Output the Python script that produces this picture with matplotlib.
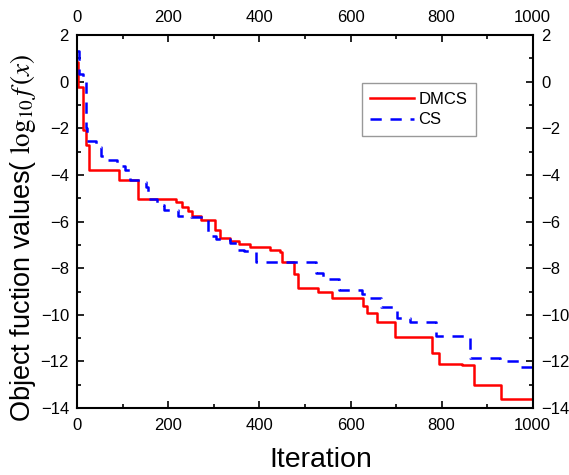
import matplotlib
matplotlib.use("Agg")
import matplotlib.pyplot as plt
from matplotlib.ticker import MultipleLocator

plt.rcParams['font.family'] = ['Liberation Sans', 'DejaVu Sans']
plt.rcParams['mathtext.fontset'] = 'stix'

# DMCS best value (step changes): iteration, log10 f(x)
dmcs_iter = [0, 2, 13, 19, 26, 92, 134, 216, 229, 242, 252, 272, 302, 314, 335, 355,
             380, 423, 445, 449, 475, 485, 529, 560, 627, 637, 658, 697, 779, 794,
             845, 871, 930, 1000]
dmcs_val = [0.85, -0.22, -2.08, -2.72, -3.79, -4.22, -5.04, -5.15, -5.37, -5.55, -5.78,
            -5.94, -6.37, -6.71, -6.82, -6.98, -7.08, -7.23, -7.3, -7.72, -8.23, -8.85,
            -9.02, -9.26, -9.63, -9.94, -10.3, -10.97, -11.63, -12.09, -12.16, -13.02,
            -13.63, -13.63]

# CS best value (step changes)
cs_iter = [0, 4, 12, 19, 22, 40, 52, 68, 88, 105, 115, 140, 150, 156, 175, 190, 221,
           250, 287, 305, 335, 351, 365, 393, 524, 540, 575, 626, 640, 667, 703, 730,
           788, 862, 928, 972, 1000]
cs_val = [1.3, 0.35, 0.0, -2.0, -2.55, -2.8, -3.2, -3.35, -3.6, -3.8, -4.2, -4.3, -4.5,
          -5.05, -5.3, -5.5, -5.75, -5.8, -6.6, -6.75, -6.9, -7.2, -7.27, -7.72, -8.2,
          -8.47, -8.93, -9.1, -9.27, -9.65, -10.15, -10.3, -10.9, -11.85, -12.0, -12.25,
          -12.25]

fig = plt.figure(figsize=(5.69, 4.75), dpi=100)
ax = fig.add_axes([0.1359, 0.141, 0.8003, 0.785])

ax.plot(dmcs_iter, dmcs_val, drawstyle='steps-post', color='#ff0000', lw=1.8, label='DMCS')
ax.plot(cs_iter, cs_val, drawstyle='steps-post', color='#0000ff', lw=1.8,
        dashes=(4.5, 3.5), label='CS')

ax.set_xlim(0, 1000)
ax.set_ylim(-14, 2)
ax.xaxis.set_major_locator(MultipleLocator(200))
ax.xaxis.set_minor_locator(MultipleLocator(100))
ax.yaxis.set_major_locator(MultipleLocator(2))
ax.yaxis.set_minor_locator(MultipleLocator(1))
ax.tick_params(which='both', direction='in', top=True, right=True,
               labeltop=True, labelright=True, labelsize=12, width=1.2)
ax.tick_params(axis='x', which='both', pad=7)
ax.tick_params(axis='y', which='both', pad=6)
ax.tick_params(which='major', length=5)
ax.tick_params(which='minor', length=3)
for s in ax.spines.values():
    s.set_linewidth(1.5)

ax.set_xlabel('Iteration', fontsize=20.5)
ax.xaxis.set_label_coords(0.535, -0.105)
ax.xaxis.label.set_va('top')
ax.set_ylabel(r'Object fuction values( $\log_{10} f\,(x)$', fontsize=19.5)
ax.yaxis.set_label_coords(-0.087, 0.457)

leg = ax.legend(loc='upper left', bbox_to_anchor=(0.625, 0.871), fontsize=12,
                frameon=True, fancybox=False, handlelength=2.6, borderpad=0.5,
                labelspacing=0.35, handletextpad=0.3, borderaxespad=0)
leg.get_frame().set_edgecolor('#808080')
leg.get_frame().set_linewidth(1.0)

fig.savefig('out.png', dpi=100)
